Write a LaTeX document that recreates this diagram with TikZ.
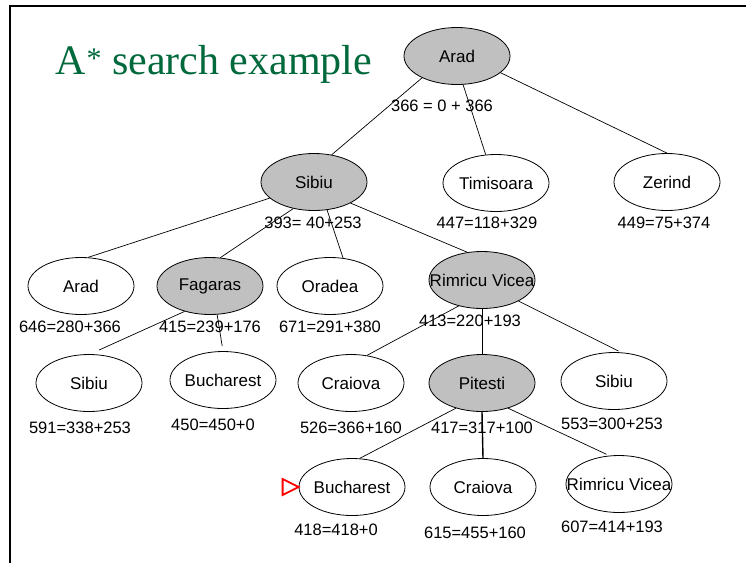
\documentclass[tikz,border=0pt]{standalone}
\usepackage{fontspec}
\setmainfont{Liberation Serif}
\newfontfamily\arialf{Liberation Sans}
\usetikzlibrary{shapes.geometric}
\definecolor{titlegreen}{RGB}{0,105,60}
\definecolor{nodegray}{RGB}{192,192,192}
\newcommand{\nt}[1]{\makebox[0pt]{#1}}
\begin{document}
\begin{tikzpicture}[x=1pt,y=-1pt,
  city/.style={ellipse,draw=black,line width=0.8pt,minimum width=106pt,minimum height=57pt,inner sep=0pt,font=\arialf\fontsize{17}{19}\selectfont},
  opennode/.style={city,fill=white},
  closednode/.style={city,fill=nodegray},
  fval/.style={font=\arialf\fontsize{16.5}{18}\selectfont,inner sep=0pt},
  edge/.style={line width=0.7pt}]
\useasboundingbox (0,0) rectangle (746,563);
\fill[white] (0,0) rectangle (746,563);
\draw[line width=2.5pt] (746,6) -- (10,6) -- (10,563);
\node[anchor=base west,text=titlegreen,font=\fontsize{42}{48}\selectfont,inner sep=0pt] (title) at (55,74) {A\kern1pt\raisebox{6pt}{\fontsize{30}{30}\selectfont *} search example};
% level 0
\node[closednode] (aradT) at (457,56) {\nt{Arad}};
% level 1
\node[closednode] (sibiu) at (314,182) {\nt{Sibiu}};
\node[opennode] (timi) at (496,183) {\nt{Timisoara}};
\node[opennode] (zerind) at (667,182) {\nt{Zerind}};
% level 2
\node[opennode] (arad2) at (81,286) {\nt{Arad}};
\node[closednode] (fag) at (210,286) {\nt{Fagaras}};
\node[opennode] (orad) at (330,286) {\nt{Oradea}};
\node[closednode] (rv) at (482,280) {\nt{Rimricu Vicea}};
% level 3
\node[opennode] (sib3) at (89,383) {\nt{Sibiu}};
\node[opennode] (buc3) at (223,380) {\nt{Bucharest}};
\node[opennode] (cra3) at (351,383) {\nt{Craiova}};
\node[closednode] (pit) at (482,383) {\nt{Pitesti}};
\node[opennode] (sib4) at (614,381) {\nt{Sibiu}};
% level 4
\node[opennode] (buc5) at (352,487) {\nt{Bucharest}};
\node[opennode] (cra5) at (483,487) {\nt{Craiova}};
\node[opennode] (rv5) at (619,484) {\nt{Rimricu Vicea}};
% edges
\draw[edge] (aradT.212) -- (sibiu.57);
\draw[edge] (aradT.-78) -- (timi.110);
\draw[edge] (aradT.-21) -- (zerind.90);
\draw[edge] (sibiu.200) -- (arad2.76);
\draw[edge] (sibiu.232) -- (fag.70);
\draw[edge] (sibiu.295) -- (orad.65);
\draw[edge] (sibiu.330) -- (rv.118);
\draw[edge,shorten >=10pt] (fag.225) -- (sib3.88);
\draw[edge,shorten >=5pt] (fag.284) -- (buc3.90);
\draw[edge] (rv.228) -- (cra3.60);
\draw[edge] (rv.270) -- (pit.90);
\draw[edge,shorten >=3pt] (rv.330) -- (sib4.76);
\draw[edge] (pit.224) -- (buc5.75);
\draw[line width=1.4pt] (pit.270) -- (cra5.90);
\draw[edge,shorten >=3pt] (pit.316) -- (rv5.109);
% f-values
\node[fval] (f1) at (442,106) {366 = 0 + 366};
\node[fval] (f2) at (313,223) {393= 40+253};
\node[fval] (f3) at (487,223) {447=118+329};
\node[fval] (f4) at (664,223) {449=75+374};
\node[fval] (f5) at (70,327) {646=280+366};
\node[fval] (f6) at (210,327) {415=239+176};
\node[fval] (f7) at (330,327) {671=291+380};
\node[fval] (f8) at (470,321) {413=220+193};
\node[fval] (f9) at (80,428) {591=338+253};
\node[fval] (f10) at (213,425) {450=450+0};
\node[fval] (f11) at (351,428) {526=366+160};
\node[fval] (f12) at (482,428) {417=317+100};
\node[fval] (f13) at (612,424) {553=300+253};
\node[fval] (f14) at (336,530) {418=418+0};
\node[fval] (f15) at (475,533) {615=455+160};
\node[fval] (f16) at (612,527) {607=414+193};
% marker
\draw[red,line width=1.8pt,line join=miter] (buc5.west) -- ++(-16,-8) -- ++(0,16) -- cycle;
\end{tikzpicture}
\end{document}
